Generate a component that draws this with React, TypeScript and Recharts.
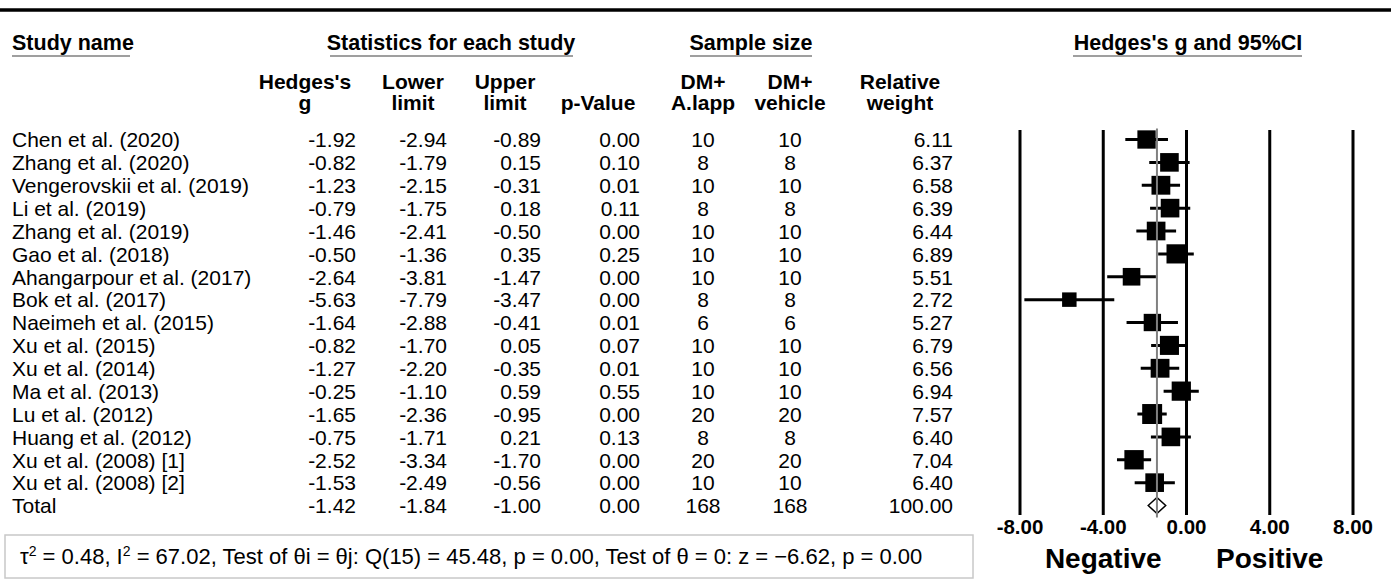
import React from "react";
import { ComposedChart, Bar, XAxis, YAxis, CartesianGrid, ReferenceLine } from "recharts";

const studies = [
  "Chen et al. (2020)",
  "Zhang et al. (2020)",
  "Vengerovskii et al. (2019)",
  "Li et al. (2019)",
  "Zhang et al. (2019)",
  "Gao et al. (2018)",
  "Ahangarpour et al. (2017)",
  "Bok et al. (2017)",
  "Naeimeh et al. (2015)",
  "Xu et al. (2015)",
  "Xu et al. (2014)",
  "Ma et al. (2013)",
  "Lu et al. (2012)",
  "Huang et al. (2012)",
  "Xu et al. (2008) [1]",
  "Xu et al. (2008) [2]",
  "Total",
];
const hedgesG = [-1.92, -0.82, -1.23, -0.79, -1.46, -0.5, -2.64, -5.63, -1.64, -0.82, -1.27, -0.25, -1.65, -0.75, -2.52, -1.53, -1.42];
const lowerLimit = [-2.94, -1.79, -2.15, -1.75, -2.41, -1.36, -3.81, -7.79, -2.88, -1.7, -2.2, -1.1, -2.36, -1.71, -3.34, -2.49, -1.84];
const upperLimit = [-0.89, 0.15, -0.31, 0.18, -0.5, 0.35, -1.47, -3.47, -0.41, 0.05, -0.35, 0.59, -0.95, 0.21, -1.7, -0.56, -1.0];
const pValue = [0.0, 0.1, 0.01, 0.11, 0.0, 0.25, 0.0, 0.0, 0.01, 0.07, 0.01, 0.55, 0.0, 0.13, 0.0, 0.0, 0.0];
const nALapp = [10, 8, 10, 8, 10, 10, 10, 8, 6, 10, 10, 10, 20, 8, 20, 10, 168];
const nVehicle = [10, 8, 10, 8, 10, 10, 10, 8, 6, 10, 10, 10, 20, 8, 20, 10, 168];
const relWeight = [6.11, 6.37, 6.58, 6.39, 6.44, 6.89, 5.51, 2.72, 5.27, 6.79, 6.56, 6.94, 7.57, 6.4, 7.04, 6.4, 100.0];
const xTicks = [-8, -4, 0, 4, 8];
const totalIndex = studies.length - 1;
const totalEffect = hedgesG[totalIndex];

const rows = studies.map((name, i) => ({
  name,
  g: hedgesG[i],
  ci: [lowerLimit[i], upperLimit[i]],
  idx: i,
}));

const FONT = "'Liberation Sans', Arial, Helvetica, sans-serif";

const COL = { name: 12, g: 356, lower: 447, upper: 541, p: 640, nA: 703, nV: 790, w: 953 };

function RowTick(props: any) {
  const { y, payload } = props;
  let i = payload && typeof payload.index === "number" ? payload.index : studies.indexOf(payload.value);
  if (studies[i] !== payload.value) i = studies.indexOf(payload.value);
  const t = (x: number, anchor: string, s: string) => (
    <text x={x} y={y} dy="0.35em" textAnchor={anchor} fontFamily={FONT} fontSize={21} fill="#000">
      {s}
    </text>
  );
  return (
    <g>
      {t(COL.name, "start", studies[i])}
      {t(COL.g, "end", hedgesG[i].toFixed(2))}
      {t(COL.lower, "end", lowerLimit[i].toFixed(2))}
      {t(COL.upper, "end", upperLimit[i].toFixed(2))}
      {t(COL.p, "end", pValue[i].toFixed(2))}
      {t(COL.nA, "middle", String(nALapp[i]))}
      {t(COL.nV, "middle", String(nVehicle[i]))}
      {t(COL.w, "end", relWeight[i].toFixed(2))}
    </g>
  );
}

function AxisTick(props: any) {
  const { x, payload } = props;
  const v = payload.value as number;
  return (
    <g>
      <text x={x} y={534} textAnchor="middle" fontFamily={FONT} fontWeight="bold" fontSize={20.5} fill="#000">
        {v.toFixed(2)}
      </text>
      {v === -4 && (
        <text x={x} y={568} textAnchor="middle" fontFamily={FONT} fontWeight="bold" fontSize={28} fill="#000">
          Negative
        </text>
      )}
      {v === 4 && (
        <text x={x} y={568} textAnchor="middle" fontFamily={FONT} fontWeight="bold" fontSize={28} fill="#000">
          Positive
        </text>
      )}
    </g>
  );
}

function ForestShape(props: any) {
  const { x, y, width, height, payload } = props;
  if (!payload || x == null || width == null) return null;
  const x0 = Math.min(x, x + width);
  const w = Math.abs(width);
  const cy = y + height / 2;
  const [lo, hi] = payload.ci;
  const gx = x0 + (w * (payload.g - lo)) / (hi - lo);
  if (payload.idx === totalIndex) {
    const hh = 8;
    return (
      <polygon
        points={`${x0},${cy} ${gx},${cy - hh} ${x0 + w},${cy} ${gx},${cy + hh}`}
        fill="#fff"
        stroke="#000"
        strokeWidth={1.5}
      />
    );
  }
  const s = 11.4 + 1.13 * relWeight[payload.idx];
  return (
    <g>
      <line x1={x0} x2={x0 + w} y1={cy} y2={cy} stroke="#000" strokeWidth={3} />
      <rect x={gx - s / 2} y={cy - s / 2} width={s} height={s} fill="#000" />
    </g>
  );
}

function Overlay() {
  const hdr = (x: number, y: number, s: string, anchor = "middle", size = 21) => (
    <text x={x} y={y} textAnchor={anchor} fontFamily={FONT} fontWeight="bold" fontSize={size} fill="#000">
      {s}
    </text>
  );
  const ul = (x1: number, x2: number) => <line x1={x1} x2={x2} y1={56} y2={56} stroke="#7f7f7f" strokeWidth={1.5} />;
  return (
    <svg
      width={1391}
      height={585}
      style={{ position: "absolute", left: 0, top: 0, pointerEvents: "none" }}
    >
      <line x1={0} x2={1391} y1={10} y2={10} stroke="#000" strokeWidth={3.5} />
      {hdr(12, 50, "Study name", "start", 21.5)}
      {ul(12, 130)}
      {hdr(451, 50, "Statistics for each study", "middle", 21.5)}
      {ul(330, 573)}
      {hdr(751, 50, "Sample size", "middle", 21.5)}
      {ul(690, 812)}
      {hdr(1188, 50, "Hedges's g and 95%CI", "middle", 21.5)}
      {ul(1073, 1302)}

      {hdr(305, 89, "Hedges's")}
      {hdr(305, 110, "g")}
      {hdr(413, 89, "Lower")}
      {hdr(413, 110, "limit")}
      {hdr(505, 89, "Upper")}
      {hdr(505, 110, "limit")}
      {hdr(598, 110, "p-Value")}
      {hdr(703, 89, "DM+")}
      {hdr(703, 110, "A.lapp")}
      {hdr(790, 89, "DM+")}
      {hdr(790, 110, "vehicle")}
      {hdr(900, 89, "Relative")}
      {hdr(900, 110, "weight")}

      <rect x={5} y={535} width={968} height={43} fill="none" stroke="#c8c8c8" strokeWidth={1.5} />
      <text x={20} y={564} fontFamily={FONT} fontSize={22} fill="#000">
        τ<tspan dy={-8} fontSize={14}>2</tspan>
        <tspan dy={8}> = 0.48, I</tspan>
        <tspan dy={-8} fontSize={14}>2</tspan>
        <tspan dy={8}> = 67.02, Test of θi = θj: Q(15) = 45.48, p = 0.00, Test of θ = 0: z = −6.62, p = 0.00</tspan>
      </text>
    </svg>
  );
}

export default function App() {
  return (
    <div style={{ position: "absolute", left: 0, top: 0, width: 1391, height: 585, background: "#fff" }}>
      <ComposedChart
        width={1391}
        height={585}
        data={rows}
        layout="vertical"
        margin={{ top: 128.5, right: 38, bottom: 37.6, left: 1000 }}
      >
        <CartesianGrid horizontal={false} vertical={true} stroke="#000" strokeWidth={3} y={130} height={385} />
        <XAxis
          type="number"
          domain={[-8, 8]}
          ticks={xTicks}
          allowDataOverflow
          axisLine={false}
          tickLine={false}
          height={30}
          tick={<AxisTick />}
          interval={0}
        />
        <YAxis
          type="category"
          dataKey="name"
          width={20}
          axisLine={false}
          tickLine={false}
          interval={0}
          tick={<RowTick />}
        />
        <Bar dataKey="ci" barSize={18} shape={<ForestShape />} isAnimationActive={false} />
        <ReferenceLine x={totalEffect} stroke="#808080" strokeWidth={2} />
      </ComposedChart>
      <Overlay />
    </div>
  );
}
